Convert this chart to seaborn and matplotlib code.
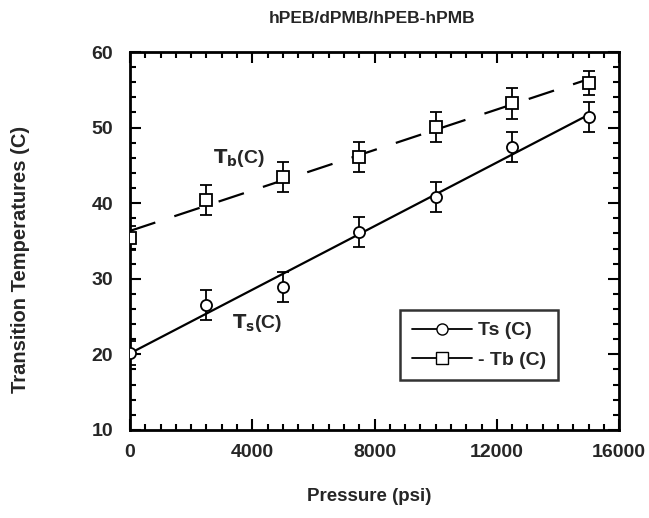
import numpy as np
import matplotlib
matplotlib.use("Agg")
import matplotlib.pyplot as plt
from matplotlib.lines import Line2D
from matplotlib.ticker import MultipleLocator
import seaborn as sns

# data
pressure = [0, 2500, 5000, 7500, 10000, 12500, 15000]
ts_vals = [20.2, 26.5, 28.9, 36.2, 40.8, 47.4, 51.4]
ts_err = [1.6, 2.0, 2.0, 2.0, 2.0, 2.0, 2.0]
tb_vals = [35.4, 40.4, 43.5, 46.1, 50.1, 53.2, 55.9]
tb_err = [1.6, 2.0, 2.0, 2.0, 2.0, 2.0, 1.6]

sns.set_style("ticks")
plt.rcParams['font.family'] = ['Liberation Sans', 'DejaVu Sans']
plt.rcParams['font.weight'] = 'bold'
plt.rcParams['mathtext.default'] = 'bf'

fig = plt.figure(figsize=(6.49, 5.18), dpi=100)
ax = fig.add_axes([0.2003, 0.170, 0.7537, 0.7296])

# least-squares lines (seaborn regression, no CI)
sns.regplot(x=pressure, y=ts_vals, ax=ax, scatter=False, ci=None,
            line_kws=dict(color='black', lw=1.6))
sns.regplot(x=pressure, y=tb_vals, ax=ax, scatter=False, ci=None,
            line_kws=dict(color='black', lw=1.6, dashes=(12, 9)))

ax.errorbar(pressure, ts_vals, yerr=ts_err, fmt='o', ms=8, mfc='white',
            mec='black', mew=1.3, ecolor='black', elinewidth=1.3, capsize=4,
            capthick=1.3, zorder=5)
ax.errorbar(pressure, tb_vals, yerr=tb_err, fmt='s', ms=8, mfc='white',
            mec='black', mew=1.3, ecolor='black', elinewidth=1.3, capsize=4,
            capthick=1.3, zorder=5)

ax.text(2700, 45.3, r'$T_b$(C)', fontsize=14, fontweight='bold')
ax.text(3350, 23.5, r'$T_s$(C)', fontsize=14, fontweight='bold')

ax.set_xlim(0, 16000)
ax.set_ylim(10, 60)
ax.set_xticks([0, 4000, 8000, 12000, 16000])
ax.set_yticks([10, 20, 30, 40, 50, 60])
ax.xaxis.set_minor_locator(MultipleLocator(500))
ax.yaxis.set_minor_locator(MultipleLocator(2))
ax.tick_params(which='both', direction='in', top=True, right=True,
               width=1.5, color='black')
ax.tick_params(which='major', length=8, labelsize=14)
ax.tick_params(axis='x', which='major', pad=10)
ax.tick_params(axis='y', which='major', pad=12)
ax.tick_params(which='minor', length=4)
for lbl in ax.get_xticklabels() + ax.get_yticklabels():
    lbl.set_fontweight('bold')
for sp in ax.spines.values():
    sp.set_linewidth(2)
    sp.set_color('black')

ax.set_xlabel('Pressure (psi)', fontsize=13.5, fontweight='bold')
ax.set_ylabel('Transition Temperatures (C)', fontsize=14.5, fontweight='bold')
ax.xaxis.set_label_coords(0.49, -0.153)
ax.yaxis.set_label_coords(-0.205, 0.45)
fig.text(0.573, 0.965, 'hPEB/dPMB/hPEB-hPMB', ha='center', va='center',
         fontsize=12.5, fontweight='bold')

handles = [
    Line2D([], [], color='black', lw=1.3, marker='o', ms=8, mfc='white', mec='black'),
    Line2D([], [], color='black', lw=1.3, marker='s', ms=8, mfc='white', mec='black'),
]
leg = ax.legend(handles, ['Ts (C)', '- Tb (C)'], loc='upper left',
                bbox_to_anchor=(0.552, 0.317), borderaxespad=0,
                frameon=True, fancybox=False, edgecolor='black', fontsize=14,
                handlelength=3.1, borderpad=0.6, labelspacing=0.6,
                handletextpad=0.3)
leg.get_frame().set_linewidth(1.8)

fig.savefig('out.png', dpi=100)
